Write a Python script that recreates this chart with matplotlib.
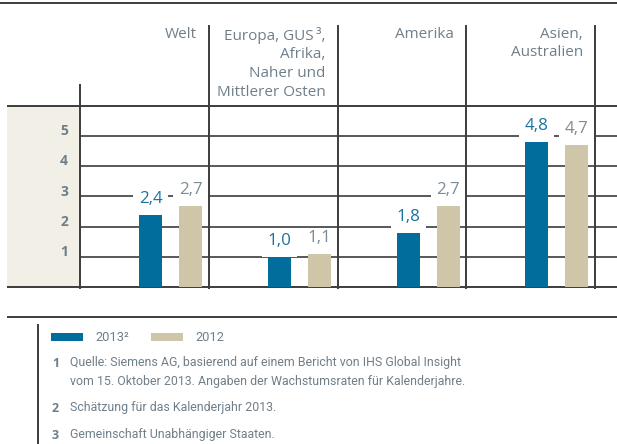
import matplotlib
matplotlib.use("Agg")
import matplotlib.pyplot as plt
from matplotlib.patches import Rectangle

# Regional growth rates (percent)
regions = ["Welt", "Europa, GUS\u2009³,\nAfrika,\nNaher und\nMittlerer Osten", "Amerika", "Asien,\nAustralien"]
values_2013 = [2.4, 1.0, 1.8, 4.8]
values_2012 = [2.7, 1.1, 2.7, 4.7]
y_ticks = [1, 2, 3, 4, 5]
series_labels = ["2013²", "2012"]
footnotes = [
    ("1", "Quelle: Siemens AG, basierend auf einem Bericht von IHS Global Insight\nvom 15. Oktober 2013. Angaben der Wachstumsraten für Kalenderjahre."),
    ("2", "Schätzung für das Kalenderjahr 2013."),
    ("3", "Gemeinschaft Unabhängiger Staaten."),
]

BLUE = "#006d9c"
BEIGE = "#cfc5a8"
BAND = "#f2efe7"
LINE = "#3c3c3c"
TXT = "#6f7f8a"
VAL_BLUE = "#1b73a1"
VAL_GRAY = "#7d8b94"
NOTE_FONT = ["Liberation Sans Narrow", "Roboto"]

plt.rcParams["font.family"] = ["Open Sans", "DejaVu Sans"]

W, H = 617, 444
fig = plt.figure(figsize=(W / 100, H / 100), dpi=100)

# Background canvas in pixel units for frame lines, headers, legend and notes
bg = fig.add_axes([0, 0, 1, 1])
bg.set_xlim(0, W)
bg.set_ylim(H, 0)
bg.axis("off")

left, top, bottom = 80, 106, 287
col_w = 128.75
ymax = 6

# Data area
ax = fig.add_axes([left / W, 1 - bottom / H, (W - left) / W, (bottom - top) / H])
ax.set_xlim(0, (W - left) / col_w)
ax.set_ylim(0, ymax)
ax.axis("off")
ax_h = bottom - top
px_y = ax_h / ymax          # pixels per data unit (vertical)

# beige tick band
bg.add_patch(Rectangle((7, top), left - 7, bottom - top, color=BAND, lw=0, zorder=0))

# frame lines
bg.plot([0, W], [3, 3], color=LINE, lw=1.4, solid_capstyle="butt")
bg.plot([7, W], [top, top], color=LINE, lw=1.4, solid_capstyle="butt")
bg.plot([7, W], [bottom, bottom], color=LINE, lw=1.4, solid_capstyle="butt")

# column separators (drawn on the data axes so they stay above label boxes)
sep_tf = ax.get_xaxis_transform()
ax.plot([0, 0], [-1 / ax_h, (bottom - 85) / ax_h], color=LINE, lw=1.4,
        transform=sep_tf, clip_on=False, zorder=5)
for i in range(1, len(regions) + 1):
    ax.plot([i, i], [-1 / ax_h, (bottom - 26) / ax_h], color=LINE, lw=1.4,
            transform=sep_tf, clip_on=False, zorder=5)

# grid lines
for t in y_ticks:
    ax.axhline(t, color=LINE, lw=1.2, zorder=1)
    ax.annotate(str(t), xy=(0, t), xycoords=("axes fraction", "data"),
                xytext=(-8.6, 3.6), textcoords="offset points",
                ha="right", va="center", fontsize=10, fontweight="bold", color=TXT)

# region headers
for i, name in enumerate(regions):
    bg.text(left + (i + 1) * col_w - 12, 26.5, name, ha="right", va="top",
            multialignment="right", fontsize=11, color=TXT, linespacing=1.36)

def fmt(v):
    return f"{v:.1f}".replace(".", ",")

bar_w = 0.179
box_w = 35 / col_w           # white label panel width (data units)
box_h = 26 / px_y            # white label panel height above bar top
for i, (a, b) in enumerate(zip(values_2013, values_2012)):
    xa, xb = i + 0.548, i + 0.860
    ax.bar(xa, a, width=bar_w, color=BLUE, zorder=2)
    ax.bar(xb, b, width=bar_w, color=BEIGE, zorder=2)
    for x, v, c in ((xa, a, VAL_BLUE), (xb, b, VAL_GRAY)):
        ax.add_patch(Rectangle((x - box_w / 2, v), box_w, box_h, fc="white",
                               ec="none", zorder=2.5))
        ax.annotate(fmt(v), xy=(x, v), xytext=(0, 8.6), textcoords="offset points",
                    ha="center", va="baseline", fontsize=12.2, color=c, zorder=3)

# lower block: separator, legend and notes
bg.plot([7, W], [317, 317], color=LINE, lw=1.4, solid_capstyle="butt")
bg.plot([38, 38], [325, H], color=LINE, lw=1.4)

for (x0, color, label) in ((51, BLUE, series_labels[0]), (151, BEIGE, series_labels[1])):
    bg.add_patch(Rectangle((x0, 333), 32, 8, color=color, lw=0))
    bg.text(x0 + 44, 337, label, ha="left", va="center", fontsize=9.3,
            color=TXT, family=NOTE_FONT)

note_y = [363, 408, 435]
for (num, text), y in zip(footnotes, note_y):
    bg.text(52, y, num, ha="left", va="center", fontsize=9, fontweight="bold", color=TXT)
    bg.text(70, y - 6.8, text, ha="left", va="top", fontsize=8.9, color=TXT,
            linespacing=1.6, family=NOTE_FONT)

fig.savefig("out.png", dpi=100)
